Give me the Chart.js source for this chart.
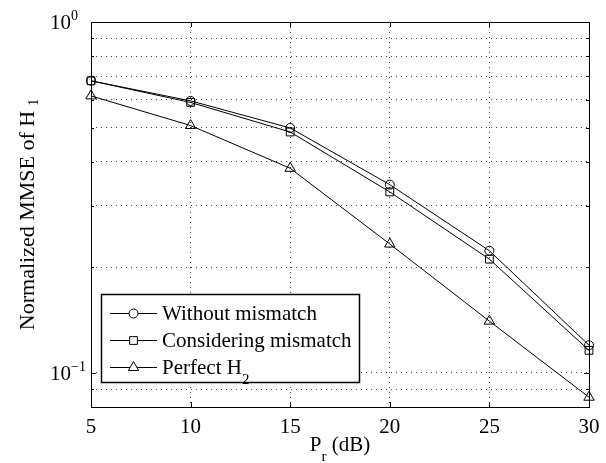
<!DOCTYPE html>
<html>
<head>
<meta charset="utf-8">
<script src="https://cdn.jsdelivr.net/npm/chart.js@4/dist/chart.umd.min.js"></script>
<style>
  html, body { margin: 0; padding: 0; background: #fff; }
  #wrap { width: 606px; height: 463px; }
</style>
</head>
<body>
<div id="wrap"><canvas id="grafico" width="606" height="463"></canvas></div>
<script>
// valores
const potenciaDb = [5, 10, 15, 20, 25, 30];
const semDescasamento = [0.68, 0.596, 0.499, 0.344, 0.223, 0.120];
const comDescasamento = [0.68, 0.590, 0.486, 0.328, 0.211, 0.116];
const h2Perfeito = [0.616, 0.507, 0.383, 0.233, 0.1405, 0.0853];

const nomesSeries = ["Without mismatch", "Considering mismatch", "Perfect H"];
const subscritosSeries = ["", "", "2"];
const marcadores = ["circle", "rect", "triangle"];

const xTicks = [5, 10, 15, 20, 25, 30];
const yGrade = [0.09, 0.1, 0.2, 0.3, 0.4, 0.5, 0.6, 0.7, 0.8, 0.9, 1];
const yRotulos = [[0.1, "10", "\u22121"], [1, "10", "0"]];

const FONTE = "Liberation Serif";
const TAM = 21;

function serie(label, dados, estilo, raio) {
    return {
        label: label,
        data: dados,
        borderColor: "#000",
        backgroundColor: "#000",
        borderWidth: 1,
        pointStyle: estilo,
        pointRadius: raio,
        pointHoverRadius: raio,
        pointBorderWidth: 1,
        pointBackgroundColor: "rgba(0,0,0,0)",
        pointBorderColor: "#000",
        tension: 0,
        clip: false
    };
}

function fonte(px) {
    return px + "px '" + FONTE + "'";
}

// desenha eixos, rótulos e legenda no estilo do MATLAB
const moldura = {
    id: "moldura",
    afterDraw(chart) {
        const ctx = chart.ctx;
        const a = chart.chartArea;
        const sx = chart.scales.x;
        const sy = chart.scales.y;
        ctx.save();
        ctx.strokeStyle = "#000";
        ctx.fillStyle = "#000";
        ctx.lineWidth = 1;
        ctx.strokeRect(a.left + 0.5, a.top + 0.5, a.right - a.left, a.bottom - a.top);

        // marcas internas
        ctx.beginPath();
        xTicks.forEach(v => {
            const px = Math.round(sx.getPixelForValue(v)) + 0.5;
            ctx.moveTo(px, a.bottom); ctx.lineTo(px, a.bottom - 5);
            ctx.moveTo(px, a.top); ctx.lineTo(px, a.top + 5);
        });
        yGrade.forEach(v => {
            const py = Math.round(sy.getPixelForValue(v)) + 0.5;
            const len = (v === 0.1 || v === 1) ? 5 : 3;
            ctx.moveTo(a.left, py); ctx.lineTo(a.left + len, py);
            ctx.moveTo(a.right, py); ctx.lineTo(a.right - len, py);
        });
        ctx.stroke();

        // rótulos do eixo x
        ctx.font = fonte(TAM);
        ctx.textAlign = "center";
        ctx.textBaseline = "alphabetic";
        xTicks.forEach(v => {
            ctx.fillText(String(v), sx.getPixelForValue(v), a.bottom + 26);
        });

        // rótulos do eixo y (potências de dez)
        ctx.textAlign = "left";
        yRotulos.forEach(([v, base, exp]) => {
            const py = sy.getPixelForValue(v);
            ctx.font = fonte(TAM);
            ctx.fillText(base, 50, py + 7);
            const w = ctx.measureText(base).width;
            ctx.font = fonte(14);
            ctx.fillText(exp, 50 + w, py - 2);
        });

        // título do eixo x: P_r (dB)
        const cx = (a.left + a.right) / 2;
        ctx.font = fonte(TAM);
        const wP = ctx.measureText("P").width;
        const wResto = ctx.measureText(" (dB)").width;
        ctx.font = fonte(15);
        const wR = ctx.measureText("r").width;
        const x0 = cx - (wP + wR + wResto) / 2;
        const yb = a.bottom + 44;
        ctx.font = fonte(TAM);
        ctx.fillText("P", x0, yb);
        ctx.font = fonte(15);
        ctx.fillText("r", x0 + wP, yb + 10);
        ctx.font = fonte(TAM);
        ctx.fillText(" (dB)", x0 + wP + wR, yb);

        // título do eixo y: Normalized MMSE of H_1
        ctx.save();
        ctx.translate(34, (a.top + a.bottom) / 2);
        ctx.rotate(-Math.PI / 2);
        ctx.font = fonte(TAM + 1);
        const tY = "Normalized MMSE of H";
        const wT = ctx.measureText(tY).width;
        ctx.font = fonte(14);
        const w1 = ctx.measureText("1").width;
        const inicio = -(wT + 5 + w1) / 2;
        ctx.font = fonte(TAM + 1);
        ctx.fillText(tY, inicio, 0);
        ctx.font = fonte(14);
        ctx.fillText("1", inicio + wT + 5, 4);
        ctx.restore();

        // legenda
        const lx = 101, ly = 294, lw = 258, lh = 88;
        ctx.fillStyle = "#fff";
        ctx.fillRect(lx, ly, lw, lh);
        ctx.fillStyle = "#000";
        ctx.lineWidth = 1.5;
        ctx.strokeRect(lx + 0.5, ly + 0.5, lw, lh);
        ctx.lineWidth = 1;
        chart.data.datasets.forEach((ds, i) => {
            const ry = ly + 19 + i * 27;
            ctx.beginPath();
            ctx.moveTo(110, ry + 0.5); ctx.lineTo(157, ry + 0.5);
            ctx.stroke();
            ctx.fillStyle = "#fff";
            Chart.helpers.drawPoint(ctx, {
                pointStyle: ds.pointStyle, radius: ds.pointRadius, borderWidth: 1, rotation: 0
            }, 133.5, ry + 0.5);
            ctx.fillStyle = "#000";
            ctx.font = fonte(TAM);
            ctx.fillText(nomesSeries[i], 162, ry + 7);
            if (subscritosSeries[i]) {
                const wn = ctx.measureText(nomesSeries[i]).width;
                ctx.font = fonte(15);
                ctx.fillText(subscritosSeries[i], 162 + wn, ry + 17);
            }
        });
        ctx.restore();
    }
};

const ctx = document.getElementById("grafico").getContext("2d");

new Chart(ctx, {
    type: "line",
    data: {
        labels: potenciaDb,
        datasets: [
            serie(nomesSeries[0], semDescasamento, marcadores[0], 4.5),
            serie(nomesSeries[1], comDescasamento, marcadores[1], 5.5),
            serie(nomesSeries[2] + subscritosSeries[2], h2Perfeito, marcadores[2], 6)
        ]
    },
    options: {
        responsive: false,
        animation: false,
        layout: { padding: { left: 91, right: 17, top: 22, bottom: 56 } },
        plugins: { legend: { display: false }, tooltip: { enabled: false } },
        scales: {
            x: {
                type: "linear",
                min: 5,
                max: 30,
                ticks: { display: false, stepSize: 5 },
                grid: { color: "#444", drawTicks: false, lineWidth: 1 },
                border: { display: false, dash: [1, 4] }
            },
            y: {
                type: "logarithmic",
                min: 0.08,
                max: 1,
                ticks: { display: false },
                afterBuildTicks: (eixo) => { eixo.ticks = yGrade.map(v => ({ value: v })); },
                grid: { color: "#444", drawTicks: false, lineWidth: 1 },
                border: { display: false, dash: [1, 4] }
            }
        }
    },
    plugins: [moldura]
});
</script>
</body>
</html>
